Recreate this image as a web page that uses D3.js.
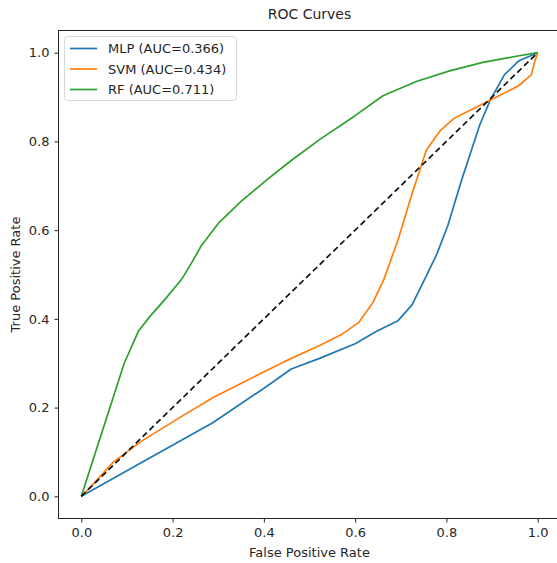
<!DOCTYPE html>
<html>
<head>
<meta charset="utf-8">
<script src="https://cdn.jsdelivr.net/npm/d3@7"></script>
<style>
  body { margin: 0; background: #fff; }
  svg { display: block; font-family: 'DejaVu Sans', sans-serif; }
</style>
</head>
<body>
<svg width="557" height="563"></svg>
<script>
// ROC points: [false positive rate, true positive rate]
const mlpPoints = [
  [0, 0], [0.133, 0.077], [0.288, 0.166], [0.405, 0.247], [0.46, 0.287], [0.522, 0.311],
  [0.6, 0.344], [0.647, 0.372], [0.694, 0.396], [0.725, 0.432], [0.756, 0.497],
  [0.779, 0.546], [0.803, 0.61], [0.834, 0.715], [0.873, 0.837], [0.896, 0.893],
  [0.927, 0.95], [0.959, 0.982], [1, 1]
];
const svmPoints = [
  [0, 0], [0.023, 0.024], [0.07, 0.077], [0.133, 0.125], [0.21, 0.174], [0.288, 0.222],
  [0.366, 0.263], [0.444, 0.303], [0.522, 0.34], [0.569, 0.364], [0.608, 0.392],
  [0.639, 0.437], [0.663, 0.489], [0.694, 0.578], [0.725, 0.683], [0.756, 0.78],
  [0.787, 0.825], [0.818, 0.853], [0.865, 0.877], [0.912, 0.901], [0.959, 0.926],
  [0.986, 0.95], [0.994, 0.982], [1, 1]
];
const rfPoints = [
  [0, 0], [0.047, 0.15], [0.094, 0.3], [0.125, 0.372], [0.15, 0.405], [0.18, 0.44],
  [0.219, 0.488], [0.241, 0.525], [0.263, 0.565], [0.3, 0.615], [0.35, 0.665],
  [0.405, 0.712], [0.46, 0.757], [0.522, 0.804], [0.6, 0.858], [0.661, 0.903],
  [0.734, 0.935], [0.807, 0.959], [0.88, 0.978], [0.953, 0.992], [1, 1]
];
const chancePoints = [[0, 0], [1, 1]];

const seriesNames = ['MLP (AUC=0.366)', 'SVM (AUC=0.434)', 'RF (AUC=0.711)'];
const seriesColors = ['#1f77b4', '#ff7f0e', '#2ca02c'];
const tickValues = [0, 0.2, 0.4, 0.6, 0.8, 1.0];

const svg = d3.select('svg');
const margin = { left: 58.5, top: 30.5, right: 560.5, bottom: 518.5 };

const x = d3.scaleLinear().domain([-0.05, 1.05]).range([margin.left, margin.right]);
const y = d3.scaleLinear().domain([-0.05, 1.05]).range([margin.bottom, margin.top]);

const textColor = '#262626';

// axes
const xAxis = svg.append('g')
  .attr('transform', `translate(0,${margin.bottom})`)
  .call(d3.axisBottom(x).tickValues(tickValues).tickFormat(d3.format('.1f')).tickSize(4).tickPadding(5));
const yAxis = svg.append('g')
  .attr('transform', `translate(${margin.left},0)`)
  .call(d3.axisLeft(y).tickValues(tickValues).tickFormat(d3.format('.1f')).tickSize(4).tickPadding(5));

for (const ax of [xAxis, yAxis]) {
  ax.select('.domain').remove();
  ax.selectAll('line').attr('stroke', textColor).attr('stroke-width', 1);
  ax.selectAll('text').attr('fill', textColor).style('font-size', '13px').style('font-family', 'DejaVu Sans');
}

// curves
const line = d3.line().x(d => x(d[0])).y(d => y(d[1]));
const plot = svg.append('g');
[mlpPoints, svmPoints, rfPoints].forEach((pts, i) => {
  plot.append('path')
    .attr('d', line(pts))
    .attr('fill', 'none')
    .attr('stroke', seriesColors[i])
    .attr('stroke-width', 1.7)
    .attr('stroke-linejoin', 'round');
});
plot.append('path')
  .attr('d', line(chancePoints))
  .attr('fill', 'none')
  .attr('stroke', '#111')
  .attr('stroke-width', 1.7)
  .attr('stroke-dasharray', '6,3.5');

// frame
svg.append('rect')
  .attr('x', margin.left)
  .attr('y', margin.top)
  .attr('width', margin.right - margin.left)
  .attr('height', margin.bottom - margin.top)
  .attr('fill', 'none')
  .attr('stroke', textColor)
  .attr('stroke-width', 1);

// legend
const legend = svg.append('g');
legend.append('rect')
  .attr('x', 64.5).attr('y', 36.5)
  .attr('width', 172).attr('height', 64)
  .attr('rx', 3)
  .attr('fill', '#fff')
  .attr('fill-opacity', 0.8)
  .attr('stroke', '#d8d8d8');
seriesNames.forEach((name, i) => {
  const ly = 48.5 + i * 20.5;
  legend.append('line')
    .attr('x1', 70).attr('x2', 97)
    .attr('y1', ly).attr('y2', ly)
    .attr('stroke', seriesColors[i])
    .attr('stroke-width', 1.7);
  legend.append('text')
    .attr('x', 108).attr('y', ly)
    .attr('dy', '0.35em')
    .attr('fill', textColor)
    .style('font-size', '13px')
    .text(name);
});

// labels
svg.append('text')
  .attr('x', (margin.left + margin.right) / 2)
  .attr('y', 19)
  .attr('text-anchor', 'middle')
  .attr('fill', textColor)
  .style('font-size', '14px')
  .text('ROC Curves');
svg.append('text')
  .attr('x', (margin.left + margin.right) / 2)
  .attr('y', 557)
  .attr('text-anchor', 'middle')
  .attr('fill', textColor)
  .style('font-size', '13px')
  .text('False Positive Rate');
svg.append('text')
  .attr('transform', `translate(20,${(margin.top + margin.bottom) / 2}) rotate(-90)`)
  .attr('text-anchor', 'middle')
  .attr('fill', textColor)
  .style('font-size', '13px')
  .text('True Positive Rate');
</script>
</body>
</html>
